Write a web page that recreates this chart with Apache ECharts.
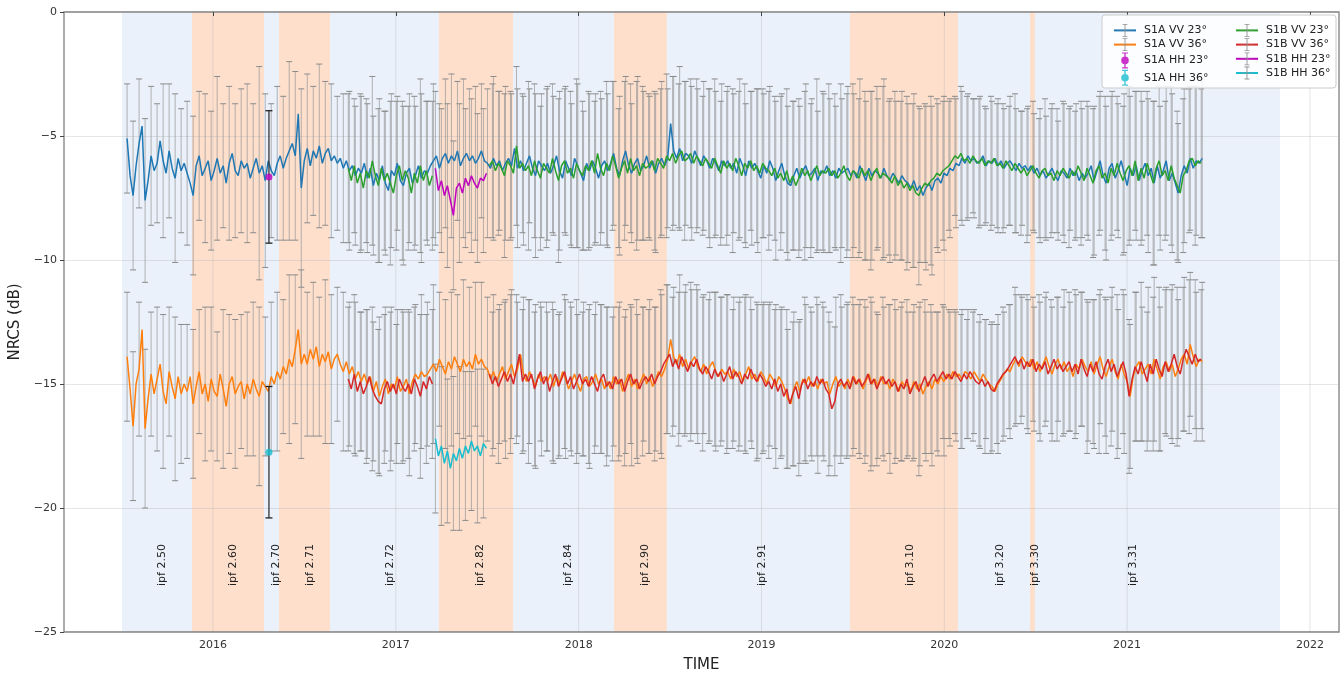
<!DOCTYPE html>
<html><head><meta charset="utf-8">
<script src="https://cdn.jsdelivr.net/npm/echarts@6/dist/echarts.min.js"></script>
<style>html,body{margin:0;padding:0;background:#fff}#c{width:1344px;height:673px}</style>
</head><body><div id="c"></div>
<script>
// ---------- axis ticks ----------
const yearTicks = [2016, 2017, 2018, 2019, 2020, 2021, 2022];
// ---------- IPF processor versions ----------
const ipfNames  = ['ipf 2.50','ipf 2.60','ipf 2.70','ipf 2.71','ipf 2.72','ipf 2.82','ipf 2.84','ipf 2.90','ipf 2.91','ipf 3.10','ipf 3.20','ipf 3.30','ipf 3.31'];
const ipfStart  = [2015.502, 2015.885, 2016.279, 2016.361, 2016.640, 2017.236, 2017.641, 2018.193, 2018.483, 2019.484, 2020.075, 2020.469, 2020.496];
const ipfEnd    = [2015.885, 2016.279, 2016.361, 2016.640, 2017.236, 2017.641, 2018.193, 2018.483, 2019.484, 2020.075, 2020.469, 2020.496, 2021.836];
const ipfShade  = [0,1,0,1,0,1,0,1,0,1,0,1,0];
const ipfLabelX = [2015.721, 2016.109, 2016.345, 2016.531, 2016.968, 2017.460, 2017.942, 2018.363, 2019.003, 2019.812, 2020.305, 2020.496, 2021.032];

// ---------- sampling ----------
const REVISIT_DAYS = 6;
const S1A_START = 2015.530;   // first S1A sample (decimal year)
const S1B_START = 2016.740;   // first S1B sample
const S1B_HH_OFFSET = 29;     // S1B HH campaign starts at S1B sample #29

// ---------- S1A VV 23° (mean NRCS, dB) ----------
const s1aVV23 = [
-5.1,-6.6,-7.4,-6.2,-5.3,-4.6,-7.6,-6.8,-5.8,-6.4,-6.1,-5.2,-6.0,-6.5,-5.6,-6.3,-6.7,-5.9,-6.4,-6.1,
-6.5,-6.9,-7.4,-6.2,-5.8,-6.6,-6.3,-6.0,-6.8,-6.4,-5.9,-6.5,-6.2,-6.9,-6.1,-5.7,-6.4,-6.6,-6.0,-6.3,
-6.1,-6.7,-6.3,-5.9,-6.5,-6.2,-6.8,-6.0,-6.4,-6.6,-6.1,-5.8,-6.3,-5.9,-5.6,-5.3,-5.8,-4.1,-7.1,-6.0,
-5.5,-6.2,-5.6,-5.9,-5.4,-6.1,-5.7,-5.5,-6.0,-5.8,-6.1,-5.9,-6.3,-6.0,-6.4,-6.2,-6.6,-6.3,-6.5,-6.1,
-6.7,-6.3,-7.0,-6.5,-6.8,-6.2,-6.9,-7.2,-6.4,-6.6,-6.1,-6.8,-7.0,-6.5,-6.3,-6.9,-6.6,-6.2,-6.7,-6.4,
-6.5,-6.2,-6.0,-5.8,-6.3,-5.9,-5.7,-6.1,-5.8,-6.0,-5.6,-6.2,-5.9,-5.7,-6.0,-5.8,-6.1,-5.9,-5.6,-6.0,
-6.1,-6.3,-5.9,-6.2,-6.0,-6.4,-6.1,-5.9,-6.2,-5.5,-6.3,-6.0,-6.4,-6.1,-5.8,-6.3,-6.6,-6.0,-6.2,-6.4,
-6.1,-6.5,-6.2,-5.8,-6.4,-6.7,-6.0,-6.3,-6.6,-5.9,-6.2,-6.5,-6.8,-6.1,-6.4,-6.0,-6.3,-6.7,-6.2,-6.0,
-6.4,-6.1,-5.7,-6.3,-6.6,-6.0,-5.6,-6.2,-6.5,-6.1,-5.9,-6.4,-6.2,-5.8,-6.3,-6.0,-6.5,-6.1,-5.9,-6.2,
-5.9,-4.5,-5.6,-5.9,-5.5,-6.0,-5.7,-5.8,-6.1,-5.6,-5.9,-6.2,-5.8,-6.0,-6.3,-5.9,-6.1,-6.4,-6.0,-6.2,
-6.0,-6.3,-6.1,-6.5,-5.9,-6.2,-6.6,-6.0,-6.3,-6.1,-6.4,-6.7,-6.2,-6.5,-6.0,-6.3,-6.8,-6.4,-6.1,-6.6,
-6.9,-7.0,-6.6,-6.3,-6.7,-6.4,-6.2,-6.6,-6.5,-6.3,-6.8,-6.4,-6.5,-6.2,-6.6,-6.4,-6.7,-6.3,-6.5,-6.4,
-6.3,-6.6,-6.4,-6.7,-6.2,-6.5,-6.8,-6.3,-6.6,-6.4,-6.5,-6.7,-6.3,-6.6,-6.8,-6.5,-6.7,-6.9,-6.6,-6.8,
-6.9,-7.1,-6.8,-7.2,-7.0,-7.4,-7.1,-6.9,-7.2,-6.8,-6.7,-6.9,-6.5,-6.6,-6.3,-6.4,-6.1,-6.2,-5.9,-6.1,
-5.8,-6.0,-5.9,-6.1,-6.0,-5.8,-6.2,-6.0,-6.1,-5.9,-6.2,-6.0,-6.3,-6.1,-6.0,-6.2,-6.4,-6.1,-6.3,-6.2,
-6.4,-6.2,-6.5,-6.3,-6.6,-6.4,-6.7,-6.5,-6.3,-6.6,-6.8,-6.4,-6.5,-6.7,-6.3,-6.6,-6.4,-6.8,-6.5,-6.7,
-6.5,-6.2,-6.8,-6.4,-6.0,-6.6,-6.9,-6.3,-6.1,-6.7,-6.4,-6.0,-6.5,-7.0,-6.3,-6.6,-6.2,-6.8,-6.4,-6.1,
-6.6,-6.3,-6.9,-6.2,-6.7,-6.4,-6.0,-6.8,-6.5,-6.9,-7.3,-6.6,-6.2,-6.5,-5.9,-6.3,-6.0,-6.1,-5.9];

// ---------- S1A VV 36° ----------
const s1aVV36 = [
-13.9,-15.2,-16.7,-15.0,-14.4,-12.8,-16.8,-15.6,-14.6,-15.4,-14.8,-14.2,-15.3,-15.8,-14.5,-15.1,-15.6,-14.7,-15.4,-15.0,
-15.3,-14.7,-15.8,-15.1,-14.5,-15.4,-15.0,-15.7,-14.8,-15.3,-15.5,-14.6,-15.2,-15.9,-15.0,-14.7,-15.4,-15.1,-14.9,-15.6,
-15.0,-15.4,-14.8,-15.2,-15.5,-14.9,-15.1,-15.3,-14.7,-15.0,-14.5,-14.8,-14.3,-14.6,-14.0,-14.3,-13.6,-12.8,-14.2,-13.8,
-14.2,-13.6,-14.0,-13.5,-14.3,-13.8,-14.1,-13.7,-14.4,-14.0,-13.8,-14.2,-14.5,-14.1,-14.6,-14.3,-14.8,-14.5,-14.9,-14.6,
-15.0,-14.7,-15.3,-14.9,-15.5,-15.1,-14.8,-15.4,-15.0,-15.2,-14.7,-15.3,-15.1,-14.8,-15.4,-14.9,-14.6,-14.8,-14.5,-14.7,
-14.6,-14.4,-14.2,-14.5,-14.0,-14.3,-14.6,-14.1,-14.4,-13.9,-14.2,-14.5,-14.0,-14.3,-14.1,-14.4,-13.8,-14.2,-14.0,-14.3,
-14.4,-14.8,-14.5,-14.9,-14.6,-14.3,-14.8,-14.5,-14.2,-14.7,-14.4,-13.8,-14.6,-14.9,-14.5,-14.8,-15.1,-14.6,-14.9,-14.7,
-14.9,-14.6,-15.1,-14.7,-15.0,-14.5,-14.8,-15.2,-14.9,-14.6,-15.0,-15.3,-14.8,-14.7,-15.1,-14.9,-14.6,-15.0,-14.8,-15.2,
-14.9,-15.2,-14.7,-15.0,-14.8,-15.3,-14.9,-14.6,-15.1,-14.8,-15.2,-14.9,-14.6,-15.0,-14.7,-15.1,-14.8,-14.5,-14.7,-14.4,
-14.0,-13.2,-13.9,-14.2,-13.8,-14.3,-14.0,-14.4,-14.1,-13.9,-14.3,-14.5,-14.2,-14.6,-14.3,-14.1,-14.5,-14.7,-14.4,-14.6,
-14.5,-14.8,-14.4,-14.7,-14.5,-14.9,-14.6,-14.3,-14.8,-14.6,-14.9,-14.5,-14.7,-15.0,-14.6,-14.8,-15.1,-14.7,-14.9,-15.2,
-15.6,-15.8,-15.2,-14.9,-15.3,-14.8,-15.0,-14.7,-15.1,-14.9,-15.2,-14.8,-15.0,-14.9,-15.4,-15.0,-14.7,-15.1,-14.9,-15.2,
-14.8,-15.1,-14.7,-15.0,-14.8,-15.2,-14.9,-14.6,-15.0,-14.8,-15.1,-14.7,-15.0,-14.9,-15.2,-14.8,-15.0,-15.3,-14.9,-15.1,
-15.0,-15.3,-14.9,-15.2,-15.0,-15.4,-15.1,-14.9,-15.2,-14.8,-15.0,-14.7,-14.9,-14.6,-14.8,-14.5,-14.7,-14.6,-14.8,-14.5,
-14.6,-14.8,-14.5,-14.7,-14.9,-14.6,-14.8,-15.0,-15.1,-15.3,-15.0,-14.8,-14.6,-14.4,-14.5,-14.2,-14.0,-14.3,-13.9,-14.1,
-14.3,-14.0,-14.4,-14.1,-14.5,-14.2,-13.9,-14.3,-14.6,-14.2,-14.0,-14.4,-14.1,-14.5,-14.3,-14.7,-14.2,-14.4,-14.0,-14.3,
-14.5,-14.1,-14.6,-14.2,-13.9,-14.4,-14.7,-14.3,-14.0,-14.5,-14.8,-14.2,-14.6,-14.9,-15.5,-14.7,-14.3,-14.1,-14.6,-14.4,
-14.2,-14.6,-14.0,-14.4,-14.8,-14.3,-14.1,-14.5,-14.2,-14.7,-14.4,-14.0,-13.8,-14.2,-13.4,-13.9,-14.3,-14.0,-14.1];

// ---------- S1B VV 23° (gap while S1B acquired HH) ----------
const s1bVV23 = [
-6.3,-6.8,-6.2,-6.9,-6.5,-7.1,-6.4,-6.7,-6.0,-6.6,-7.0,-6.3,-6.8,-6.5,-6.9,-7.3,-6.6,-6.2,-6.8,-6.4,
-6.7,-7.3,-6.5,-6.9,-6.2,-6.8,-6.4,-7.0,-6.6,null,null,null,null,null,null,null,null,null,null,null,
null,null,null,null,null,null,null,-6.2,-6.0,-6.4,-6.1,-6.3,-6.6,-6.0,-6.2,-6.5,-5.4,-6.3,-6.1,-6.4,
-6.2,-6.6,-6.0,-6.4,-6.7,-6.1,-6.3,-6.5,-5.9,-6.4,-6.8,-6.2,-6.0,-6.5,-6.3,-6.7,-6.1,-6.4,-6.6,-6.2,
-6.4,-6.0,-6.5,-5.7,-6.3,-6.6,-6.1,-6.4,-5.8,-6.2,-6.7,-6.3,-6.0,-6.5,-5.9,-6.4,-6.2,-6.6,-6.1,-6.3,
-6.2,-6.0,-6.4,-5.9,-6.1,-6.3,-5.8,-6.0,-5.7,-6.1,-5.8,-5.6,-6.0,-5.9,-5.7,-6.1,-5.8,-6.0,-6.2,-5.9,
-6.1,-6.3,-5.9,-6.2,-6.5,-6.0,-6.3,-6.1,-6.4,-5.9,-6.2,-6.6,-6.1,-6.3,-6.0,-6.4,-6.2,-6.5,-6.1,-6.3,
-6.4,-6.6,-6.3,-6.7,-6.5,-6.8,-6.4,-6.9,-6.6,-7.0,-6.7,-6.3,-6.6,-6.4,-6.8,-6.5,-6.2,-6.6,-6.4,-6.5,
-6.3,-6.6,-6.4,-6.7,-6.5,-6.2,-6.6,-6.8,-6.4,-6.5,-6.7,-6.3,-6.6,-6.4,-6.8,-6.5,-6.3,-6.7,-6.5,-6.6,
-6.7,-6.9,-6.6,-7.0,-6.8,-7.1,-6.9,-7.2,-7.0,-7.3,-7.4,-7.1,-6.9,-7.0,-6.8,-6.7,-6.5,-6.6,-6.4,-6.3,
-6.2,-6.0,-5.8,-5.9,-5.7,-6.0,-5.9,-6.1,-5.8,-6.0,-6.1,-5.9,-6.2,-6.0,-6.1,-5.9,-6.2,-6.1,-6.3,-6.0,
-6.2,-6.4,-6.1,-6.3,-6.5,-6.3,-6.6,-6.4,-6.2,-6.5,-6.7,-6.4,-6.3,-6.6,-6.5,-6.8,-6.4,-6.6,-6.3,-6.5,
-6.7,-6.4,-6.6,-6.2,-6.5,-6.8,-6.3,-6.6,-6.9,-6.4,-6.2,-6.7,-6.5,-6.9,-6.3,-6.6,-6.1,-6.5,-6.8,-6.4,
-6.2,-6.6,-6.0,-6.8,-6.3,-6.7,-6.1,-6.5,-6.9,-6.3,-6.0,-6.6,-6.4,-6.8,-6.2,-6.7,-7.0,-7.3,-6.6,-6.4,
-6.0,-5.9,-6.2,-6.0,-6.1];

// ---------- S1B VV 36° ----------
const s1bVV36 = [
-14.8,-15.2,-14.6,-15.3,-14.9,-15.4,-15.1,-14.7,-15.2,-15.5,-15.7,-15.8,-15.2,-14.9,-15.3,-15.0,-15.4,-14.8,-15.1,-15.3,
-15.0,-15.4,-14.8,-15.1,-15.5,-14.9,-15.2,-14.7,-15.0,null,null,null,null,null,null,null,null,null,null,null,
null,null,null,null,null,null,null,-14.6,-15.0,-14.7,-15.1,-14.8,-14.5,-14.9,-14.6,-15.0,-14.4,-13.8,-14.9,-14.6,
-14.9,-14.6,-15.2,-14.8,-14.5,-15.0,-14.7,-15.3,-14.9,-14.6,-15.1,-14.8,-14.5,-15.0,-14.7,-15.2,-14.9,-14.6,-15.0,-14.8,
-15.1,-14.7,-15.0,-15.3,-14.8,-14.6,-15.1,-14.9,-15.2,-14.7,-15.0,-14.8,-15.3,-14.9,-14.6,-15.0,-14.8,-15.2,-14.9,-14.7,
-14.9,-14.6,-15.0,-14.7,-14.5,-14.2,-14.0,-13.8,-14.3,-14.0,-14.4,-13.9,-14.2,-14.5,-14.1,-14.3,-14.0,-14.4,-14.6,-14.3,
-14.5,-14.8,-14.4,-14.7,-14.5,-14.9,-14.6,-14.3,-14.8,-14.5,-14.7,-15.0,-14.6,-14.8,-14.4,-14.7,-14.9,-14.6,-14.8,-15.1,
-14.9,-15.2,-14.8,-15.3,-15.0,-15.5,-15.2,-15.8,-15.4,-15.1,-15.6,-15.0,-14.8,-15.2,-14.9,-15.1,-14.7,-15.0,-14.8,-15.2,
-15.4,-16.0,-15.7,-15.0,-14.8,-15.1,-14.9,-15.2,-14.7,-15.0,-14.8,-15.1,-14.9,-14.6,-15.0,-14.8,-15.2,-14.9,-14.7,-15.0,
-14.8,-15.1,-14.9,-15.3,-15.0,-15.2,-14.8,-15.4,-15.1,-14.9,-15.3,-15.0,-14.7,-15.1,-14.8,-14.6,-14.9,-14.7,-14.5,-14.8,
-14.6,-14.8,-14.5,-14.7,-14.9,-14.6,-14.8,-14.5,-14.7,-14.9,-15.0,-14.8,-15.1,-14.9,-15.2,-15.3,-15.0,-14.8,-14.6,-14.5,
-14.3,-14.1,-13.9,-14.2,-14.0,-14.4,-14.1,-14.3,-14.0,-14.5,-14.2,-14.4,-14.1,-14.6,-14.3,-14.0,-14.4,-14.2,-14.5,-14.3,
-14.1,-14.5,-14.2,-14.6,-14.0,-14.4,-14.7,-14.2,-14.5,-14.1,-14.6,-14.8,-14.3,-14.0,-14.5,-14.2,-14.7,-14.4,-14.1,-14.6,
-15.5,-14.8,-14.3,-14.6,-14.1,-14.5,-14.9,-14.2,-14.6,-14.0,-14.4,-14.7,-14.1,-14.5,-14.2,-13.8,-14.3,-14.6,-14.0,-13.6,
-13.9,-14.2,-13.8,-14.1,-14.0];

// ---------- S1B HH campaign ----------
const s1bHH23 = [-6.3,-7.2,-6.8,-7.4,-7.0,-7.6,-8.2,-7.1,-6.9,-7.3,-6.7,-7.0,-6.6,-6.9,-7.1,-6.7,-6.8,-6.5];
const s1bHH36 = [-17.2,-17.9,-17.5,-18.2,-17.7,-18.4,-17.8,-18.1,-17.6,-18.0,-17.5,-17.8,-17.3,-17.7,-17.5,-17.9,-17.4,-17.6];

// ---------- S1A HH single acquisition ----------
const s1aHHTime = 2016.306;
const s1aHH23 = -6.65, s1aHH23Std = 2.67;
const s1aHH36 = -17.75, s1aHH36Std = 2.65;

// ---------- standard deviations (one per 12 days, i.e. every 2nd sample) ----------
const s1aVV23Std = [
2.2,3.0,2.6,3.3,2.8,2.4,3.1,2.7,3.4,2.5,2.9,3.2,2.6,3.0,2.8,3.3,2.5,3.1,2.7,2.9,
3.2,2.6,4.3,3.5,2.7,3.1,2.9,3.6,3.4,4.0,3.0,2.6,3.3,2.9,3.1,2.7,3.0,3.2,2.8,3.1,
3.0,2.8,3.3,2.9,3.1,2.7,3.2,3.0,2.8,3.4,2.9,3.1,2.6,3.0,3.3,2.8,3.2,2.9,3.1,2.7,
3.0,3.3,2.8,3.1,2.9,3.2,3.0,2.7,3.3,2.9,3.1,2.8,3.2,3.0,2.9,3.3,2.8,3.1,3.0,2.7,
3.1,2.9,3.2,3.0,2.8,3.3,3.0,2.9,3.2,3.1,2.8,3.0,3.3,2.9,3.1,2.8,3.0,3.2,2.9,3.1,
3.0,2.8,3.2,2.9,3.1,3.3,2.9,3.0,3.2,2.8,3.1,3.0,2.9,3.3,3.0,2.8,3.2,3.1,2.9,3.0,
3.3,3.1,3.5,3.2,3.4,3.0,3.6,3.3,3.1,3.4,3.2,3.5,3.1,3.3,3.4,3.0,3.1,2.8,2.6,2.7,
2.5,2.4,2.6,2.3,2.5,2.7,2.4,2.6,2.5,2.3,2.6,2.4,2.7,2.5,2.6,2.4,2.8,2.5,2.7,2.6,
2.7,3.0,2.8,3.1,2.9,2.7,3.2,2.9,3.0,2.8,3.1,3.3,2.9,3.0,3.2,2.8,3.1,2.9,3.0,3.2];
const s1aVV36Std = [
2.6,3.0,2.7,3.2,2.5,2.9,3.1,2.6,3.3,2.8,2.7,3.0,2.5,3.1,2.9,2.6,3.2,2.8,3.0,2.7,
2.9,3.1,3.6,2.8,3.0,3.2,2.7,3.4,3.0,3.8,2.9,3.1,2.8,3.3,3.0,2.7,3.2,2.9,3.1,2.8,
3.0,2.8,3.2,2.9,3.1,2.7,3.0,3.3,2.8,3.1,2.9,3.2,2.7,3.0,3.1,2.8,3.2,3.0,2.9,3.1,
2.9,3.1,2.8,3.2,3.0,2.7,3.1,2.9,3.3,3.0,2.8,3.1,2.9,3.2,3.0,2.8,3.1,3.3,2.9,3.0,
3.0,2.8,3.1,2.9,3.2,3.0,2.7,3.1,2.9,3.3,3.0,2.8,3.2,3.0,2.9,3.1,2.8,3.0,3.2,2.9,
3.1,2.9,3.0,3.2,2.8,3.1,3.0,2.9,3.3,3.0,2.8,3.1,2.9,3.2,3.0,3.4,3.1,2.9,3.2,3.0,
3.1,2.9,3.2,3.0,3.3,2.9,3.1,3.4,3.0,3.2,2.9,3.1,3.3,3.0,3.1,2.9,3.0,2.7,2.6,2.8,
2.6,2.5,2.7,2.4,2.6,2.8,2.5,2.7,2.6,2.4,2.7,2.5,2.8,2.6,2.7,2.5,2.9,2.6,2.8,2.7,
2.8,3.0,2.7,3.1,2.9,2.8,3.2,2.9,3.0,2.7,3.1,3.3,2.9,3.0,3.2,2.8,3.1,2.9,3.0,3.2];
const s1bVV23Std = [
3.0,2.7,3.2,2.9,3.4,3.1,2.8,3.3,3.0,3.2,2.9,3.1,3.5,2.8,3.0,3.0,3.0,3.0,3.0,3.0,
3.0,3.0,3.0,3.0,3.1,2.9,3.3,3.0,3.2,2.8,3.4,3.1,2.9,3.2,3.0,3.3,2.9,3.1,3.4,3.0,
3.2,2.9,3.1,3.3,3.0,2.8,3.2,3.0,3.4,3.1,2.9,3.2,3.0,3.3,3.1,2.9,3.2,3.0,3.1,2.8,
3.0,3.2,2.9,3.1,3.3,3.0,3.2,2.8,3.1,3.0,3.2,2.9,3.1,3.3,3.0,3.2,3.4,3.1,3.5,3.2,
3.4,3.1,3.6,3.3,3.5,3.2,3.4,3.6,3.3,3.5,3.1,3.4,3.2,3.5,3.3,3.6,3.2,3.4,3.0,2.8,
2.6,2.4,2.7,2.5,2.3,2.6,2.4,2.7,2.5,2.6,2.4,2.8,2.5,2.7,2.6,2.4,2.8,2.6,2.5,2.7,
2.8,2.6,2.9,2.7,3.0,2.8,3.1,2.9,2.7,3.0,3.2,2.8,3.1,2.9,3.3,3.0,2.8,3.2,3.0,3.1,2.9,3.2,3.0];
const s1bVV36Std = [
2.9,3.2,2.8,3.1,3.3,2.9,3.0,3.2,2.8,3.1,3.0,2.9,3.3,3.0,3.0,3.0,3.0,3.0,3.0,3.0,
3.0,3.0,3.0,3.0,2.9,3.1,2.8,3.2,3.0,2.9,3.3,3.1,2.8,3.0,3.2,2.9,3.1,3.0,3.3,2.9,
3.1,2.8,3.0,3.2,2.9,3.1,3.0,2.8,3.2,3.0,2.9,3.1,3.3,3.0,2.8,3.1,2.9,3.2,3.0,3.1,
2.9,3.1,3.0,3.2,2.8,3.0,3.1,2.9,3.2,3.0,3.1,2.8,3.0,3.2,2.9,3.1,3.3,3.0,3.2,3.1,
3.3,3.0,3.4,3.1,3.2,3.0,3.3,3.5,3.1,3.2,3.0,3.3,3.1,3.2,3.0,3.4,3.1,3.0,2.8,2.7,
2.6,2.5,2.7,2.4,2.6,2.5,2.7,2.6,2.4,2.7,2.5,2.8,2.6,2.7,2.5,2.8,2.6,2.7,2.9,2.6,
2.8,3.0,2.7,3.1,2.9,3.2,2.8,3.0,3.3,2.9,3.1,3.0,3.2,2.8,3.1,3.3,2.9,3.0,3.2,2.9,3.1,3.0,2.8];
const s1bHH23Std = [3.1,2.9,3.3,3.0,3.2,2.8,3.1,3.0,2.9];
const s1bHH36Std = [3.0,3.2,2.9,3.1,3.3,3.0,2.8,3.1,3.0];

// ---------- helpers ----------
const STEP = REVISIT_DAYS / 365.25;
function series2d(start, vals) { return vals.map((v, i) => [start + i * STEP, v]); }
function errBars(start, vals, std) {
  const out = [];
  std.forEach((s, k) => {
    const i = 2 * k;
    if (i >= vals.length) return;
    const v = vals[i];
    if (v == null || s == null) return;
    out.push([start + i * STEP, +(v - s).toFixed(3), +(v + s).toFixed(3)]);
  });
  return out;
}
const HH_START = S1B_START + S1B_HH_OFFSET * STEP;

const C = {
  blue: '#1f77b4', orange: '#ff7f0e', green: '#2ca02c', red: '#d62728',
  mag: '#bf00bf', cyan: '#17becf', grey: 'rgba(150,150,150,0.7)', cap: '#8a8a8a'
};
const shadeColors = ['#eaf1fa', '#fddfcc'];

function errRender(stroke, capStroke, width, capHalf) {
  return function (params, api) {
    const x = api.value(0);
    const a = api.coord([x, api.value(1)]);
    const b = api.coord([x, api.value(2)]);
    return { type: 'group', children: [
      { type: 'line', shape: { x1: a[0], y1: a[1], x2: b[0], y2: b[1] }, style: { stroke: stroke, lineWidth: width } },
      { type: 'line', shape: { x1: a[0] - capHalf, y1: a[1], x2: a[0] + capHalf, y2: a[1] }, style: { stroke: capStroke, lineWidth: width } },
      { type: 'line', shape: { x1: b[0] - capHalf, y1: b[1], x2: b[0] + capHalf, y2: b[1] }, style: { stroke: capStroke, lineWidth: width } }
    ] };
  };
}
function errSeries(data) {
  return { type: 'custom', silent: true, z: 2, animation: false, data: data,
    encode: { x: 0, y: [1, 2] }, renderItem: errRender(C.grey, C.cap, 1, 3) };
}
const IBEAM = 'path://M0,7.8H16V8.2H0Z M5,0H11V1H5Z M7.45,0H8.55V16H7.45Z M5,15H11V16H5Z';
const DOTBAR = 'path://M5,0H11V1.2H5Z M7.3,0H8.7V16H7.3Z M5,14.8H11V16H5Z M8,4.2A3.8,3.8 0 1 1 7.99,4.2Z';
function lineSeries(name, start, vals, color, z) {
  return { type: 'line', name: name, data: series2d(start, vals), showSymbol: false,
    symbol: IBEAM, symbolSize: 8, connectNulls: false, z: z, animation: false,
    lineStyle: { color: color, width: 1.5 }, itemStyle: { color: color }, emphasis: { disabled: true } };
}

const chart = echarts.init(document.getElementById('c'), null, { renderer: 'canvas' });
const legendText = { fontSize: 11, color: '#222', fontFamily: 'DejaVu Sans' };
const option = {
  animation: false,
  textStyle: { fontFamily: 'DejaVu Sans' },
  grid: { left: 64, right: 5, top: 12, bottom: 41, show: true, borderColor: '#7f7f7f', borderWidth: 1.3,
    backgroundColor: 'transparent', containLabel: false, outerBoundsMode: 'none' },
  xAxis: {
    type: 'value', min: 2015.185, max: 2022.159,
    axisLine: { show: false },
    axisTick: { show: true, customValues: yearTicks, length: 4, lineStyle: { color: '#444' } },
    axisLabel: { customValues: yearTicks, formatter: v => String(Math.round(v)), color: '#333', fontSize: 11, margin: 8 },
    splitLine: { show: false },
    name: 'TIME', nameLocation: 'middle', nameGap: 26, nameTextStyle: { fontSize: 15, color: '#222' }
  },
  yAxis: {
    type: 'value', min: -25, max: 0, interval: 5,
    axisLine: { show: false },
    axisTick: { show: true, length: 4, lineStyle: { color: '#444' } },
    axisLabel: { formatter: v => (v < 0 ? '\u2212' + (-v) : String(v)), color: '#333', fontSize: 11, margin: 7 },
    splitLine: { show: true, lineStyle: { color: 'rgba(170,170,170,0.3)', width: 1 } },
    name: 'NRCS (dB)', nameLocation: 'middle', nameGap: 40, nameTextStyle: { fontSize: 15, color: '#222' }
  },
  legend: [
    { left: 1108, top: 19, orient: 'vertical', itemGap: 1.4, itemWidth: 22, itemHeight: 16, selectedMode: false,
      textStyle: Object.assign({ padding: [0, 0, 0, 3] }, legendText),
      data: [
        { name: 'S1A VV 23°', itemStyle: { color: '#909090' } },
        { name: 'S1A VV 36°', itemStyle: { color: '#909090' } },
        { name: 'S1A HH 23°', icon: DOTBAR },
        { name: 'S1A HH 36°', icon: DOTBAR }
      ] },
    { left: 1230, top: 19, orient: 'vertical', itemGap: 1.4, itemWidth: 22, itemHeight: 16, selectedMode: false,
      textStyle: Object.assign({ padding: [0, 0, 0, 3] }, legendText),
      data: [
        { name: 'S1B VV 23°', itemStyle: { color: '#909090' } },
        { name: 'S1B VV 36°', itemStyle: { color: '#909090' } },
        { name: 'S1B HH 23°', itemStyle: { color: '#909090' } },
        { name: 'S1B HH 36°', itemStyle: { color: '#909090' } }
      ] }
  ],
  graphic: [
    { type: 'rect', z: 50, shape: { x: 1102, y: 15, width: 234, height: 73, r: 3 },
      style: { fill: 'rgba(255,255,255,0.85)', stroke: '#cccccc', lineWidth: 1 } }
  ],
  series: [
    { type: 'custom', silent: true, z: -2, animation: false,
      data: ipfStart.map((s, i) => [s, ipfEnd[i], ipfShade[i]]),
      encode: { x: [0, 1] },
      renderItem: function (params, api) {
        const cs = params.coordSys;
        const x0 = api.coord([api.value(0), -25])[0];
        const x1 = api.coord([api.value(1), -25])[0];
        return { type: 'rect', shape: { x: x0, y: cs.y, width: x1 - x0, height: cs.height },
          style: { fill: shadeColors[api.value(2)] } };
      } },
    { type: 'custom', silent: true, z: -1, animation: false,
      data: yearTicks.map(y => [y]), encode: { x: 0 },
      renderItem: function (params, api) {
        const cs = params.coordSys;
        const x = api.coord([api.value(0), -25])[0];
        return { type: 'line', shape: { x1: x, y1: cs.y, x2: x, y2: cs.y + cs.height },
          style: { stroke: 'rgba(170,170,170,0.3)', lineWidth: 1 } };
      } },
    { type: 'custom', silent: true, z: 1, animation: false,
      data: ipfLabelX.map((x, i) => [x, -22.3, i]), encode: { x: 0, y: 1 },
      renderItem: function (params, api) {
        const p = api.coord([api.value(0), api.value(1)]);
        return { type: 'text', x: p[0], y: p[1], rotation: Math.PI / 2,
          style: { text: ipfNames[api.value(2)], fill: '#222', font: '11px "DejaVu Sans"', align: 'center', verticalAlign: 'middle' } };
      } },
    errSeries(errBars(S1A_START, s1aVV23, s1aVV23Std)),
    errSeries(errBars(S1A_START, s1aVV36, s1aVV36Std)),
    errSeries(errBars(S1B_START, s1bVV23, s1bVV23Std)),
    errSeries(errBars(S1B_START, s1bVV36, s1bVV36Std)),
    errSeries(errBars(HH_START, s1bHH23, s1bHH23Std)),
    errSeries(errBars(HH_START, s1bHH36, s1bHH36Std)),
    lineSeries('S1A VV 23°', S1A_START, s1aVV23, C.blue, 3),
    lineSeries('S1A VV 36°', S1A_START, s1aVV36, C.orange, 3),
    lineSeries('S1B VV 23°', S1B_START, s1bVV23, C.green, 4),
    lineSeries('S1B VV 36°', S1B_START, s1bVV36, C.red, 4),
    lineSeries('S1B HH 23°', HH_START, s1bHH23, C.mag, 5),
    lineSeries('S1B HH 36°', HH_START, s1bHH36, C.cyan, 5),
    { type: 'custom', silent: true, z: 6, animation: false,
      data: [[s1aHHTime, s1aHH23 - s1aHH23Std, s1aHH23 + s1aHH23Std], [s1aHHTime, s1aHH36 - s1aHH36Std, s1aHH36 + s1aHH36Std]],
      encode: { x: 0, y: [1, 2] }, renderItem: errRender('#333', '#222', 1.3, 3.5) },
    { type: 'scatter', name: 'S1A HH 23°', z: 7, animation: false, symbol: 'circle', symbolSize: 7,
      itemStyle: { color: C.mag }, data: [[s1aHHTime, s1aHH23]] },
    { type: 'scatter', name: 'S1A HH 36°', z: 7, animation: false, symbol: 'circle', symbolSize: 7,
      itemStyle: { color: C.cyan }, data: [[s1aHHTime, s1aHH36]] }
  ]
};
option.legend.forEach(l => { l.z = 60; });
chart.setOption(option);
</script>
</body></html>
